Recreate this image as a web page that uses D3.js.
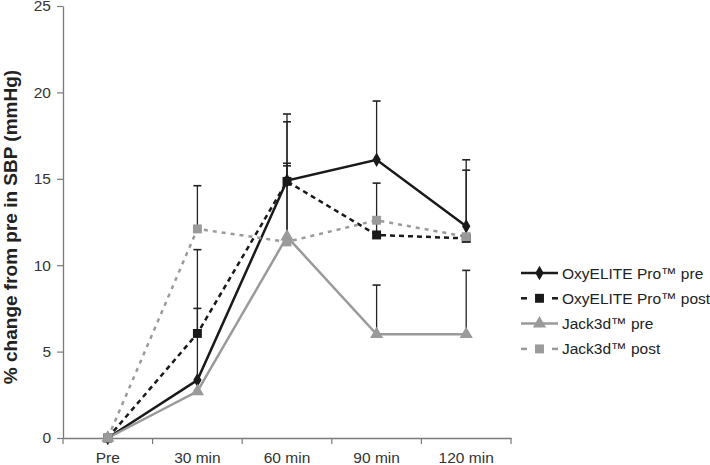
<!DOCTYPE html>
<html><head><meta charset="utf-8">
<script src="https://cdn.jsdelivr.net/npm/d3@7"></script>
<style>body{margin:0;background:#fff;}svg{display:block;font-family:"Liberation Sans",Arial,sans-serif;}</style>
</head><body>
<svg id="c" width="710" height="465"></svg>
<script>
const categories = ["Pre", "30 min", "60 min", "90 min", "120 min"];
const yTicks = [0, 5, 10, 15, 20, 25];
const seriesNames = ["OxyELITE Pro™ pre", "OxyELITE Pro™ post", "Jack3d™ pre", "Jack3d™ post"];
const oxyPre = [0, 3.35, 14.9, 16.1, 12.25];
const oxyPreErr = [0, 7.55, 3.85, 3.4, 3.85];
const oxyPost = [0, 6.05, 14.85, 11.75, 11.55];
const oxyPostErr = [0, 1.45, 3.45, 3.0, 3.95];
const jackPre = [0, 2.7, 11.65, 6.0, 6.0];
const jackPreErr = [0, 0, 4.25, 2.85, 3.7];
const jackPost = [0, 12.1, 11.35, 12.6, 11.65];
const jackPostErr = [0, 2.5, 4.4, 0, 0];

const styles = [
  {color:"#1a1a1a", dash:null, marker:"diamond", size:60},
  {color:"#1a1a1a", dash:"5,4", marker:"square", size:80},
  {color:"#9a9a9a", dash:null, marker:"triangle", size:75},
  {color:"#9a9a9a", dash:"4,5", marker:"square", size:80}
];
const series = [
  {name:seriesNames[0], values:oxyPre, err:oxyPreErr},
  {name:seriesNames[1], values:oxyPost, err:oxyPostErr},
  {name:seriesNames[2], values:jackPre, err:jackPreErr},
  {name:seriesNames[3], values:jackPost, err:jackPostErr}
];

const svg = d3.select("#c");
const x = d3.scaleBand().domain(categories).range([63, 511]).padding(0);
const y = d3.scaleLinear().domain([0, 25]).range([438, 6]);
const axisCol = "#7a7a7a";
const fs = "15.5px";

// Y axis
const ya = svg.append("g").attr("transform","translate(63,0)")
  .call(d3.axisLeft(y).tickValues(yTicks).tickSize(6).tickPadding(6).tickSizeOuter(0));
ya.select(".domain").attr("stroke",axisCol).attr("stroke-width",1.3);
ya.selectAll(".tick line").attr("stroke",axisCol).attr("stroke-width",1.2);
ya.selectAll(".tick text").attr("fill","#333").style("font-size",fs).style("font-family","'Liberation Sans',Arial,sans-serif");

// X axis
const xa = svg.append("g").attr("transform","translate(0,438)")
  .call(d3.axisBottom(x).tickSize(0).tickPadding(14).tickSizeOuter(0));
xa.select(".domain").attr("stroke",axisCol).attr("stroke-width",1.3);
xa.selectAll(".tick text").attr("fill","#333").style("font-size",fs).style("font-family","'Liberation Sans',Arial,sans-serif");
const bounds = categories.map(c => x(c)).concat([x(categories[categories.length-1]) + x.bandwidth()]);
xa.selectAll(".bt").data(bounds).join("line").attr("class","bt")
  .attr("x1",d=>d).attr("x2",d=>d).attr("y1",0).attr("y2",6)
  .attr("stroke",axisCol).attr("stroke-width",1.2);

// Y label
svg.append("text").attr("transform","translate(17,227) rotate(-90)")
  .attr("text-anchor","middle").attr("fill","#222")
  .style("font-size","19px").style("font-weight","bold")
  .text("% change from pre in SBP (mmHg)");

const cx = c => x(c) + x.bandwidth()/2;
const symType = {diamond:d3.symbolDiamond, square:d3.symbolSquare, triangle:d3.symbolTriangle};
const line = d3.line().x(d=>cx(d.c)).y(d=>y(d.v));

// lines
series.forEach((s,i)=>{
  const st = styles[i];
  const pts = categories.map((c,j)=>({c, v:s.values[j], e:s.err[j]}));
  svg.append("path").datum(pts).attr("d",line).attr("fill","none")
    .attr("stroke",st.color).attr("stroke-width",2.5)
    .attr("stroke-dasharray",st.dash);
});
// error bars
series.forEach((s,i)=>{
  const pts = categories.map((c,j)=>({c, v:s.values[j], e:s.err[j]})).filter(d=>d.e>0);
  const g = svg.append("g");
  g.selectAll("line.v").data(pts).join("line").attr("class","v")
    .attr("x1",d=>cx(d.c)).attr("x2",d=>cx(d.c)).attr("y1",d=>y(d.v)).attr("y2",d=>y(d.v+d.e))
    .attr("stroke","#222").attr("stroke-width",1.3);
  g.selectAll("line.cap").data(pts).join("line").attr("class","cap")
    .attr("x1",d=>cx(d.c)-4).attr("x2",d=>cx(d.c)+4).attr("y1",d=>y(d.v+d.e)).attr("y2",d=>y(d.v+d.e))
    .attr("stroke","#222").attr("stroke-width",1.6);
});
// markers
series.forEach((s,i)=>{
  const st = styles[i];
  const pts = categories.map((c,j)=>({c, v:s.values[j]}));
  svg.append("g").selectAll("path").data(pts).join("path")
    .attr("transform",d=>`translate(${cx(d.c)},${y(d.v)})`)
    .attr("d",d3.symbol().type(symType[st.marker]).size(st.size))
    .attr("fill",st.color);
});

// legend
const lg = svg.append("g");
series.forEach((s,i)=>{
  const st = styles[i];
  const ly = 273 + i*25.3;
  const g = lg.append("g").attr("transform",`translate(0,${ly})`);
  if (st.dash) {
    g.append("line").attr("x1",521).attr("x2",527).attr("y1",0).attr("y2",0).attr("stroke",st.color).attr("stroke-width",2.5);
    g.append("line").attr("x1",552).attr("x2",558).attr("y1",0).attr("y2",0).attr("stroke",st.color).attr("stroke-width",2.5);
  } else {
    g.append("line").attr("x1",521).attr("x2",558).attr("y1",0).attr("y2",0).attr("stroke",st.color).attr("stroke-width",2.5);
  }
  g.append("path").attr("transform","translate(539.5,0)")
    .attr("d",d3.symbol().type(symType[st.marker]).size(st.size)).attr("fill",st.color);
  g.append("text").attr("x",562).attr("y",5.5).attr("fill","#222")
    .style("font-size",fs).text(s.name);
});
</script>
</body></html>
